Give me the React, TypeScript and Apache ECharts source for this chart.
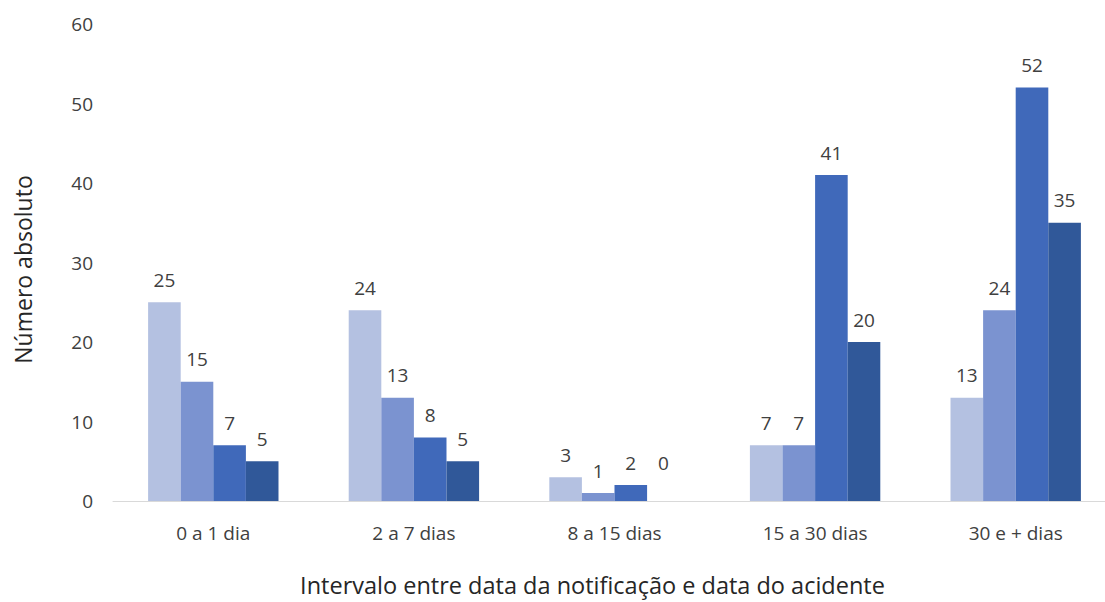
import React, { useEffect, useRef } from "react";
import * as echarts from "echarts";

const categories = ["0 a 1 dia", "2 a 7 dias", "8 a 15 dias", "15 a 30 dias", "30 e + dias"];
const seriesA = [25, 24, 3, 7, 13];
const seriesB = [15, 13, 1, 7, 24];
const seriesC = [7, 8, 2, 41, 52];
const seriesD = [5, 5, 0, 20, 35];
const colors = ["#B4C1E1", "#7B93D0", "#4069BA", "#305899"];
const names = ["Série 1", "Série 2", "Série 3", "Série 4"];

export default function App() {
  const ref = useRef<HTMLDivElement>(null);
  useEffect(() => {
    if (!ref.current) return;
    document.body.style.margin = "0";
    document.body.style.overflow = "hidden";
    const chart = echarts.init(ref.current, undefined, { renderer: "svg" });
    const font = "'Open Sans', 'Noto Sans', sans-serif";
    const all = [seriesA, seriesB, seriesC, seriesD];
    chart.setOption({
      animation: false,
      textStyle: { fontFamily: font },
      grid: { left: 113, top: 24, right: 4, bottom: 96, containLabel: false },
      xAxis: {
        type: "category",
        data: categories,
        axisLine: { lineStyle: { color: "#D9D9D9", width: 1 } },
        axisTick: { show: false },
        axisLabel: { color: "#404040", fontSize: 19, margin: 22, fontFamily: font },
        name: "Intervalo entre data da notificação e data do acidente",
        nameLocation: "middle",
        nameGap: 72,
        nameTextStyle: {
          color: "#262626",
          fontSize: 23.5,
          fontFamily: font,
          padding: [0, 44, 0, 0],
        },
      },
      yAxis: {
        type: "value",
        min: 0,
        max: 60,
        interval: 10,
        splitLine: { show: false },
        axisLine: { show: false },
        axisTick: { show: false },
        axisLabel: { color: "#404040", fontSize: 19, margin: 20, fontFamily: font },
        name: "Número absoluto",
        nameLocation: "middle",
        nameGap: 79,
        nameTextStyle: {
          color: "#262626",
          fontSize: 23,
          fontFamily: font,
          padding: [0, 14, 0, 0],
        },
      },
      series: all.map((arr, i) => ({
        type: "bar",
        name: names[i],
        data: arr.map((v) =>
          v === 0 ? { value: v, label: { offset: [0, -16] } } : v
        ),
        barGap: "0%",
        barCategoryGap: "35%",
        itemStyle: { color: colors[i] },
        label: {
          show: true,
          position: "top",
          distance: 13,
          color: "#404040",
          fontSize: 19,
          fontFamily: font,
        },
      })),
    });
    return () => chart.dispose();
  }, []);
  return <div ref={ref} style={{ width: 1120, height: 602 }} />;
}
